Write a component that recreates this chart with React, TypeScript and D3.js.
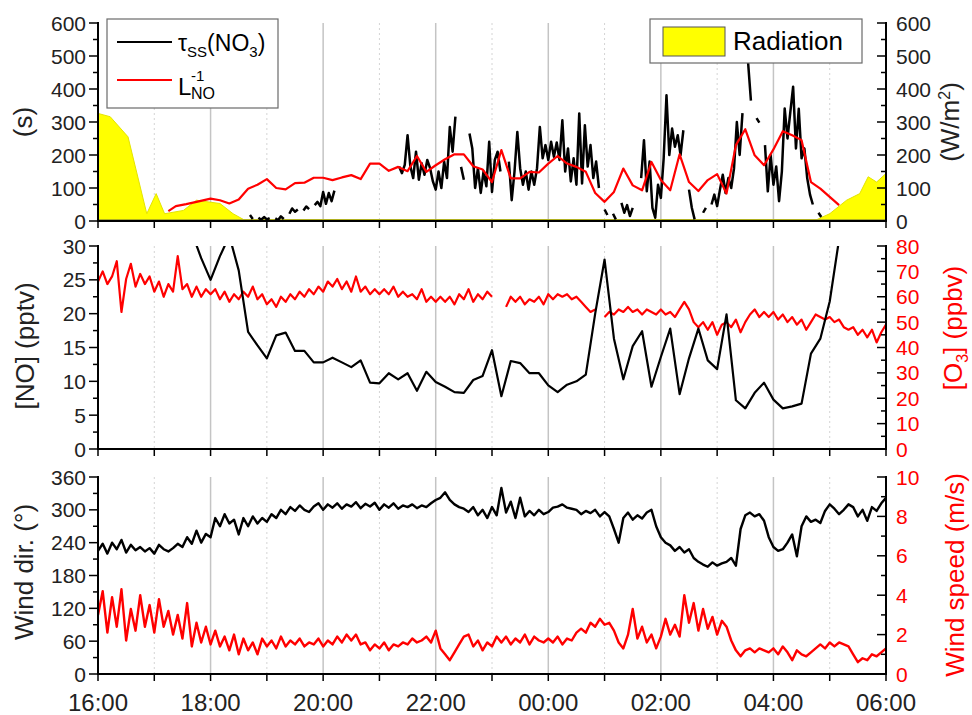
import React from 'react';
import * as d3 from 'd3';

const W = 972;
const H = 715;
const X0 = 98;
const X1 = 886;
const TOP = { y0: 23, y1: 221 };
const MID = { y0: 246, y1: 449 };
const BOT = { y0: 477, y1: 674 };
const FONT = "'Liberation Sans', Arial, Helvetica, sans-serif";
const RED = '#ff0000';
const INK = '#222';

// all times are minutes after 16:00
const BASE = new Date(2000, 0, 1, 16, 0).getTime();
const at = (min: number) => new Date(BASE + min * 60000);

// radiation (W/m2)
const radiationTime = [0, 13, 32, 52, 62, 71, 91, 105, 112, 130, 144, 158, 763, 780, 798, 812, 821, 830, 840];
const radiationValue = [326, 316, 255, 22, 83, 22, 32, 63, 60, 53, 22, 0, 0, 22, 63, 83, 134, 118, 144];

// tau_ss(NO3) (s), every 3 min from 18:42, null = no data
const tauStart = 162;
const tauStep = 3;
const tauValue: (number | null)[] = [
  18, 6, null, 10, 4, 12, 5, 9, null, 8,
  3, 14, 6, null, 22, 38, 28, 35, null, 32,
  44, 36, null, 48, 58, 45, 88, 52, 85, 60,
  92, null, null, null, null, null, null, null, null, null,
  null, null, null, null, null, null, null, null, null, null,
  null, null, null, 165, 145, 170, 260, 165, 130, 210,
  125, 175, 140, 185, 160, 120, 95, 150, 100, 180,
  130, 285, 210, 316, null, 164, 125, null, 265, 220,
  100, 160, 85, 150, 105, 240, 88, 185, 210, 150,
  null, null, 180, 63, 150, 270, 160, 110, 150, 95,
  150, 110, 160, 285, 190, 230, 185, 240, 195, 238,
  185, 305, 150, 220, 120, 190, 110, 326, 114, 290,
  165, 230, 130, 180, 100, null, 35, 18, null, 22,
  5, null, 55, 25, 48, 15, 40, null, null, 130,
  245, 90, 180, 40, 10, 110, 70, 190, 381, 200,
  280, 225, 260, 200, 275, null, 95, 40, 5, null,
  null, 25, 40, null, 50, 80, 45, 95, 140, 85,
  130, 100, 160, 300, 200, 327, null, 480, 365, null,
  312, 298, null, 230, 90, 200, 110, 165, 60, 150,
  341, 250, 330, 407, 220, 340, 190, 220, 130, 80,
  50, null, 25, 12, null,
];

// L_NO^-1 (s)
const lnoTime = [75, 83, 94, 105, ...d3.range(120, 800, 10)];
const lnoValue = [
  30, 45, 51, 58,
  68, 63, 53, 65, 98, 110, 127, 100, 96, 115, 116, 131, 131, 124, 132, 139, 127, 174,
  174, 152, 164, 151, 197, 149, 169, 187, 202, 202, 166, 156, 118, 215, 129, 129, 149, 147,
  174, 197, 174, 164, 149, 85, 58, 88, 159, 108, 93, 179, 124, 93, 202, 118, 91, 124,
  142, 83, 230, 278, 199, 169, 217, 272, 260, 245, 118, 98, 73, 48,
];

// [NO] (pptv), every 10 min from 17:30
const noStart = 90;
const noStep = 10;
const noValue = [
  40, 32, 28.2, 25.0, 28.5, 31.5, 26.4, 17.3, 15.3, 13.4,
  16.8, 17.2, 14.5, 14.5, 12.8, 12.8, 13.5, 12.8, 12.1, 13.1,
  9.8, 9.7, 11.2, 10.3, 11.2, 8.6, 11.4, 9.9, 9.2, 8.4,
  8.3, 10.2, 10.8, 14.6, 7.8, 13.0, 12.7, 11.2, 11.2, 9.4,
  8.4, 9.5, 10.0, 11.0, 20.0, 28.0, 16.3, 10.3, 15.2, 17.4,
  9.2, 13.6, 17.8, 8.1, 13.4, 17.8, 13.1, 11.8, 19.9, 7.2,
  6.0, 8.3, 9.8, 7.3, 6.0, 6.3, 6.7, 14.1, 16.3, 21.8, 31,
];

// 5-min series from 16:00 to 06:00, one row per hour
const seriesStep = 5;
const o3Value: (number | null)[] = [
  66, 70, 65, 68, 74, 54, 67, 73, 64, 69, 65, 68,
  62, 66, 60, 65, 62, 76, 63, 65, 60, 64, 60, 63,
  61, 63, 59, 62, 58, 61, 59, 62, 60, 64, 59, 61,
  57, 59, 56, 60, 58, 61, 59, 62, 60, 63, 61, 64,
  62, 66, 64, 67, 63, 66, 62, 68, 62, 64, 61, 63,
  61, 63, 61, 64, 60, 62, 60, 61, 59, 63, 58, 60,
  58, 60, 58, 60, 57, 61, 59, 63, 58, 61, 59, 62,
  60, null, null, 56, 60, 58, 60, 57, 59, 58, 60, 57,
  61, 59, 61, 60, 61, 59, 60, 58, 56, 54, 55, null,
  52, 54, 53, 55, 54, 56, 54, 55, 53, 55, 54, 53,
  55, 53, 54, 52, 55, 58, 55, 50, 48, 50, 47, 50,
  45, 49, 50, 48, 51, 46, 50, 53, 55, 52, 54, 52,
  54, 51, 53, 50, 52, 49, 51, 47, 50, 53, 52, 51,
  52, 50, 51, 48, 47, 48, 45, 47, 44, 47, 42, 46,
  49,
];

const windDir = [
  225, 238, 220, 240, 228, 245, 222, 236, 226, 232, 224, 230,
  220, 236, 228, 224, 230, 238, 232, 250, 238, 262, 240, 256,
  250, 285, 270, 292, 275, 282, 255, 285, 270, 288, 275, 285,
  278, 292, 285, 300, 292, 305, 298, 308, 300, 296, 306, 312,
  300, 310, 304, 312, 302, 310, 306, 314, 303, 311, 306, 313,
  300, 310, 304, 312, 302, 308, 305, 310, 303, 308, 305, 312,
  318, 322, 332, 318, 310, 305, 302, 296, 305, 290, 300, 285,
  305, 290, 340, 295, 315, 285, 322, 288, 298, 290, 300, 292,
  296, 304, 306, 310, 304, 302, 300, 292, 298, 294, 300, 288,
  296, 288, 265, 240, 285, 295, 282, 290, 284, 295, 300, 270,
  250, 240, 235, 225, 232, 222, 228, 212, 205, 200, 196, 204,
  198, 202, 205, 212, 198, 265, 290, 295, 288, 292, 280, 250,
  232, 225, 228, 240, 255, 215, 270, 288, 278, 282, 276, 298,
  310, 302, 292, 300, 310, 305, 288, 300, 280, 305, 298, 312,
  322,
];

const windSpeed = [
  3.0, 4.2, 2.1, 3.9, 2.4, 4.3, 1.7, 3.3, 2.2, 4.0, 2.4, 3.5,
  2.1, 3.8, 2.4, 3.2, 2.0, 3.0, 1.8, 3.6, 1.4, 2.6, 1.6, 2.4,
  1.5, 2.2, 1.4, 1.9, 1.2, 2.0, 1.0, 1.8, 1.2, 1.6, 1.0, 1.8,
  1.4, 1.7, 1.3, 1.9, 1.4, 1.7, 1.5, 1.8, 1.4, 1.6, 1.5, 1.8,
  1.4, 1.7, 1.5, 1.9, 1.6, 2.0, 1.7, 2.0, 1.5, 1.6, 1.2, 1.5,
  1.3, 1.6, 1.2, 1.5, 1.4, 1.6, 1.5, 1.8, 1.6, 1.7, 1.9, 1.6,
  2.2, 1.3, 1.0, 0.7, 1.1, 1.5, 1.9, 2.0, 1.4, 1.7, 1.2, 1.6,
  1.4, 1.9, 1.6, 1.9, 1.5, 1.8, 1.6, 2.0, 1.5, 1.9, 1.7, 1.6,
  1.8, 1.6, 1.9, 1.5, 1.8, 1.7, 2.1, 2.3, 2.1, 2.6, 2.4, 2.8,
  2.5, 2.6, 2.2, 1.6, 1.3, 2.0, 3.3, 1.8, 2.4, 1.6, 2.0, 1.3,
  1.9, 2.8, 2.0, 2.5, 1.9, 4.0, 2.6, 3.6, 2.2, 3.3, 2.3, 2.9,
  2.0, 2.7, 2.4, 1.7, 1.2, 0.9, 1.2, 1.3, 1.1, 1.3, 1.2, 1.1,
  1.3, 1.0, 1.4, 1.1, 0.7, 1.2, 1.0, 0.9, 1.1, 1.3, 1.5, 1.3,
  1.6, 1.4, 1.6, 1.5, 1.4, 1.0, 0.6, 0.8, 0.7, 1.0, 0.9, 1.1,
  1.3,
];

type Pt = [Date, number | null];

const byTimes = (times: number[], values: (number | null)[]): Pt[] =>
  values.map((v, i) => [at(times[i]), v]);
const byStep = (start: number, step: number, values: (number | null)[]): Pt[] =>
  values.map((v, i) => [at(start + i * step), v]);

const x = d3.scaleTime().domain([at(0), at(840)]).range([X0, X1]);
const hourTicks = x.ticks(d3.timeHour.every(1) as d3.TimeInterval);
const fmt = d3.timeFormat('%H:%M');

const ySec = d3.scaleLinear().domain([0, 600]).range([TOP.y1, TOP.y0]);
const yRad = d3.scaleLinear().domain([0, 600]).range([TOP.y1, TOP.y0]);
const yNO = d3.scaleLinear().domain([0, 30]).range([MID.y1, MID.y0]);
const yO3 = d3.scaleLinear().domain([0, 80]).range([MID.y1, MID.y0]);
const yDir = d3.scaleLinear().domain([0, 360]).range([BOT.y1, BOT.y0]);
const ySpd = d3.scaleLinear().domain([0, 10]).range([BOT.y1, BOT.y0]);

const lineFor = (y: d3.ScaleLinear<number, number>) =>
  d3.line<Pt>()
    .defined(d => d[1] != null)
    .x(d => x(d[0]))
    .y(d => y(d[1] as number));

function Grid({ y0, y1 }: { y0: number; y1: number }) {
  return (
    <g>
      {hourTicks.slice(1, -1).map((t, i) => {
        const even = t.getHours() % 2 === 0;
        return (
          <line key={i} x1={x(t)} x2={x(t)} y1={y0} y2={y1}
            stroke={even ? '#c4c4c4' : '#d4d4d4'}
            strokeWidth={even ? 1.5 : 1}
            strokeDasharray={even ? undefined : '2 3'} />
        );
      })}
    </g>
  );
}

function XAxis({ y, labels }: { y: number; labels?: boolean }) {
  return (
    <g>
      <line x1={X0} x2={X1} y1={y} y2={y} stroke="#000" strokeWidth={2} />
      {hourTicks.map((t, i) => (
        <line key={i} x1={x(t)} x2={x(t)} y1={y} y2={y + 7} stroke="#000" strokeWidth={1.5} />
      ))}
      {labels && hourTicks.filter(t => t.getHours() % 2 === 0).map((t, i) => (
        <text key={'l' + i} x={x(t)} y={y + 37} textAnchor="middle" fontSize={24}
          fontFamily={FONT} fill={INK}>{fmt(t)}</text>
      ))}
    </g>
  );
}

function YAxis({ scale, side, major, minor, color, y0, y1 }: {
  scale: d3.ScaleLinear<number, number>; side: 'left' | 'right';
  major: number[]; minor: number[]; color: string; y0: number; y1: number;
}) {
  const ax = side === 'left' ? X0 : X1;
  return (
    <g>
      <line x1={ax} x2={ax} y1={y0 - 1} y2={y1 + 1} stroke="#000" strokeWidth={2} />
      {major.map((v, i) => (
        <line key={'M' + i} x1={ax} x2={ax - 9} y1={scale(v)} y2={scale(v)} stroke="#000" strokeWidth={1.5} />
      ))}
      {minor.map((v, i) => (
        <line key={'m' + i} x1={ax} x2={ax - 5} y1={scale(v)} y2={scale(v)} stroke="#000" strokeWidth={1.5} />
      ))}
      {major.map((v, i) => (
        <text key={'t' + i} x={side === 'left' ? ax - 12 : ax + 10} y={scale(v)} dy="0.36em"
          textAnchor={side === 'left' ? 'end' : 'start'} fontSize={21} fontFamily={FONT} fill={color}>
          {v}
        </text>
      ))}
    </g>
  );
}

function VTitle({ x: bx, y, color, children }: { x: number; y: number; color: string; children: React.ReactNode }) {
  return (
    <text transform={`translate(${bx},${y}) rotate(-90)`} textAnchor="middle" fontSize={26}
      fontFamily={FONT} fill={color}>
      {children}
    </text>
  );
}

export default function App() {
  const radiation = byTimes(radiationTime, radiationValue);
  const tau = byStep(tauStart, tauStep, tauValue);
  const lno = byTimes(lnoTime, lnoValue);
  const no = byStep(noStart, noStep, noValue);
  const o3 = byStep(0, seriesStep, o3Value);
  const dir = byStep(0, seriesStep, windDir);
  const spd = byStep(0, seriesStep, windSpeed);

  const radArea = d3.area<Pt>()
    .x(d => x(d[0]))
    .y0(yRad(0))
    .y1(d => yRad(d[1] as number));

  return (
    <svg width={W} height={H} style={{ position: 'absolute', left: 0, top: 0, background: '#fff' }}>
      <defs>
        <clipPath id="clipTop"><rect x={X0} y={TOP.y0 - 2} width={X1 - X0} height={TOP.y1 - TOP.y0 + 2} /></clipPath>
        <clipPath id="clipMid"><rect x={X0} y={MID.y0} width={X1 - X0} height={MID.y1 - MID.y0} /></clipPath>
        <clipPath id="clipBot"><rect x={X0} y={BOT.y0} width={X1 - X0} height={BOT.y1 - BOT.y0} /></clipPath>
      </defs>
      <rect width={W} height={H} fill="#fff" />

      {/* top panel */}
      <Grid y0={TOP.y0} y1={TOP.y1} />
      <g clipPath="url(#clipTop)">
        <path d={radArea(radiation) || ''} fill="#ffff00" stroke="#e4e400" strokeWidth={1} />
        <line x1={X0} x2={X1} y1={yRad(0) - 1.5} y2={yRad(0) - 1.5} stroke="#b0b020" strokeWidth={1.2} />
        <path d={lineFor(ySec)(tau) || ''} fill="none" stroke="#000" strokeWidth={2.5} strokeLinejoin="round" />
        <path d={lineFor(ySec)(lno) || ''} fill="none" stroke={RED} strokeWidth={2.2} strokeLinejoin="round" />
      </g>
      <XAxis y={TOP.y1} />
      <YAxis scale={ySec} side="left" major={d3.range(0, 601, 100)} minor={d3.range(50, 600, 100)}
        color={INK} y0={TOP.y0} y1={TOP.y1} />
      <YAxis scale={yRad} side="right" major={d3.range(0, 601, 100)} minor={d3.range(50, 600, 100)}
        color={INK} y0={TOP.y0} y1={TOP.y1} />
      <VTitle x={32} y={122} color={INK}>(s)</VTitle>
      <VTitle x={959} y={122} color={INK}>
        (W/m<tspan dy={-9} fontSize={16}>2</tspan><tspan dy={9}>)</tspan>
      </VTitle>

      {/* legends */}
      <g fontFamily={FONT} fill="#000">
        <rect x={107} y={19} width={171} height={89} fill="#fff" stroke="#6a6a6a" strokeWidth={1.2} />
        <line x1={117} x2={172} y1={42} y2={42} stroke="#000" strokeWidth={2.2} />
        <line x1={117} x2={172} y1={80} y2={80} stroke={RED} strokeWidth={2.2} />
        <text x={178} y={51} fontSize={23}>
          τ<tspan fontSize={15} dy={6}>SS</tspan><tspan dy={-6}>(NO</tspan><tspan fontSize={15} dy={6}>3</tspan><tspan dy={-6}>)</tspan>
        </text>
        <text x={178} y={95} fontSize={24}>L</text>
        <text x={191} y={81} fontSize={15}>-1</text>
        <text x={191} y={99} fontSize={16}>NO</text>

        <rect x={650} y={19} width={212} height={44} fill="#fff" stroke="#6a6a6a" strokeWidth={1.2} />
        <rect x={663} y={27} width={62} height={29} fill="#ffff00" stroke="#555" strokeWidth={1} />
        <text x={733} y={50} fontSize={26}>Radiation</text>
      </g>

      {/* middle panel */}
      <Grid y0={MID.y0} y1={MID.y1} />
      <g clipPath="url(#clipMid)">
        <path d={lineFor(yO3)(o3) || ''} fill="none" stroke={RED} strokeWidth={2.2} strokeLinejoin="round" />
        <path d={lineFor(yNO)(no) || ''} fill="none" stroke="#000" strokeWidth={2.2} strokeLinejoin="round" />
      </g>
      <XAxis y={MID.y1} />
      <YAxis scale={yNO} side="left" major={d3.range(0, 31, 5)} minor={d3.range(2.5, 30, 5)}
        color={INK} y0={MID.y0} y1={MID.y1} />
      <YAxis scale={yO3} side="right" major={d3.range(0, 81, 10)} minor={d3.range(5, 80, 10)}
        color={RED} y0={MID.y0} y1={MID.y1} />
      <VTitle x={34} y={346} color={INK}>[NO] (pptv)</VTitle>
      <VTitle x={962} y={328} color={RED}>
        [O<tspan dy={6} fontSize={16}>3</tspan><tspan dy={-6}>] (ppbv)</tspan>
      </VTitle>

      {/* bottom panel */}
      <Grid y0={BOT.y0} y1={BOT.y1} />
      <g clipPath="url(#clipBot)">
        <path d={lineFor(yDir)(dir) || ''} fill="none" stroke="#000" strokeWidth={2.4} strokeLinejoin="round" />
        <path d={lineFor(ySpd)(spd) || ''} fill="none" stroke={RED} strokeWidth={2.4} strokeLinejoin="round" />
      </g>
      <XAxis y={BOT.y1} labels />
      <YAxis scale={yDir} side="left" major={d3.range(0, 361, 60)} minor={d3.range(30, 360, 60)}
        color={INK} y0={BOT.y0} y1={BOT.y1} />
      <YAxis scale={ySpd} side="right" major={d3.range(0, 11, 2)} minor={d3.range(1, 10, 2)}
        color={RED} y0={BOT.y0} y1={BOT.y1} />
      <VTitle x={33} y={572} color={INK}>Wind dir. (°)</VTitle>
      <VTitle x={964} y={575} color={RED}>Wind speed (m/s)</VTitle>
    </svg>
  );
}
